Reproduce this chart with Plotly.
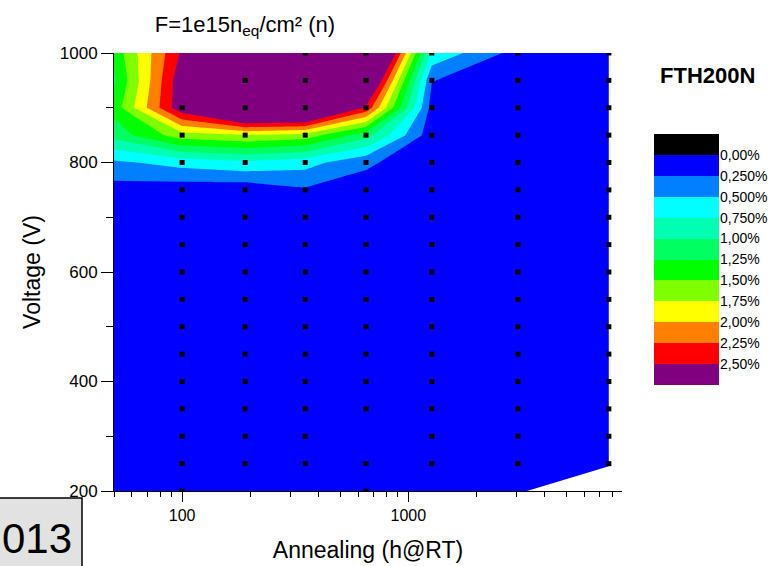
import math
import plotly.graph_objects as go

# ---------------- data ----------------
annealing_grid = [50, 100, 190, 350, 650, 1270, 3050, 7700]          # h@RT
voltage_grid = [200, 250, 300, 350, 400, 450, 500, 550, 600,
                650, 700, 750, 800, 850, 900, 950, 1000]              # V

# leakage (%) per voltage row, columns follow annealing_grid
leak_200 = [0.10, 0.10, 0.10, 0.10, 0.10, 0.10, 0.10, None]
leak_250 = [0.10, 0.10, 0.10, 0.10, 0.10, 0.10, 0.10, 0.10]
leak_300 = [0.10, 0.10, 0.10, 0.10, 0.10, 0.10, 0.10, 0.10]
leak_350 = [0.10, 0.10, 0.10, 0.10, 0.10, 0.10, 0.10, 0.10]
leak_400 = [0.10, 0.10, 0.10, 0.10, 0.10, 0.10, 0.10, 0.10]
leak_450 = [0.10, 0.10, 0.10, 0.10, 0.10, 0.10, 0.10, 0.10]
leak_500 = [0.10, 0.10, 0.10, 0.10, 0.10, 0.10, 0.10, 0.10]
leak_550 = [0.10, 0.10, 0.10, 0.10, 0.10, 0.10, 0.10, 0.10]
leak_600 = [0.10, 0.10, 0.10, 0.10, 0.10, 0.10, 0.10, 0.10]
leak_650 = [0.10, 0.08, 0.08, 0.08, 0.08, 0.08, 0.08, 0.08]
leak_700 = [0.10, 0.05, 0.05, 0.08, 0.05, 0.05, 0.05, 0.05]
leak_750 = [0.15, 0.10, 0.08, 0.22, 0.12, 0.05, 0.05, 0.05]
leak_800 = [0.45, 0.60, 0.70, 0.60, 0.30, 0.05, 0.05, 0.05]
leak_850 = [1.10, 1.65, 1.75, 1.65, 1.10, 0.10, 0.05, 0.05]
leak_900 = [1.35, 2.70, 3.50, 3.50, 2.45, 0.15, 0.05, 0.05]
leak_950 = [1.20, 2.70, 4.00, 4.00, 3.20, 0.26, 0.05, 0.05]
leak_1000 = [1.33, 2.55, 4.00, 4.00, 4.00, 0.70, 0.15, 0.20]

leak = [leak_200, leak_250, leak_300, leak_350, leak_400, leak_450, leak_500,
        leak_550, leak_600, leak_650, leak_700, leak_750, leak_800, leak_850,
        leak_900, leak_950, leak_1000]

# measured points (annealing times measured at each voltage)
all_times = [100, 190, 350, 650, 1270, 3050, 7700]
measured = {
    200: [100, 650],
    250: all_times, 300: [100, 190, 350, 1270, 3050, 7700],
    350: all_times, 400: all_times, 450: all_times, 500: all_times,
    550: all_times, 600: all_times, 650: all_times, 700: all_times,
    750: all_times, 800: all_times, 850: all_times, 900: all_times,
    950: [190, 350, 650, 1270, 3050, 7700],
    1000: [350, 650, 1270, 3050, 7700],
}

levels = [0.00, 0.25, 0.50, 0.75, 1.00, 1.25, 1.50, 1.75, 2.00, 2.25, 2.50]
level_labels = ["0,00%", "0,250%", "0,500%", "0,750%", "1,00%", "1,25%",
                "1,50%", "1,75%", "2,00%", "2,25%", "2,50%"]
legend_colors = ["#000000", "#0000FF", "#0080FF", "#00FFFF", "#00FFB0",
                 "#00FF60", "#00FF00", "#80FF00", "#FFFF00", "#FF8000",
                 "#FF0000", "#800080"]
band_colors = legend_colors[1:]   # blue (<0.25) ... purple (>2.5)

chart_title = "F=1e15n<sub>eq</sub>/cm² (n)"
legend_title = "FTH200N"
x_title = "Annealing (h@RT)"
y_title = "Voltage (V)"
tag_text = "013"

# ---------------- colour scales ----------------
nb = len(band_colors)
band_scale = []
edges = [i / (nb - 1) for i in range(nb)]  # 0,0.1,...,1.0
for i, c in enumerate(band_colors):
    lo = 0.0 if i == 0 else (edges[i] if i < nb - 1 else 0.975)
    hi = edges[i + 1] if i < nb - 2 else (0.975 if i == nb - 2 else 1.0)
    band_scale.append([lo, c])
    band_scale.append([hi, c])

nl = len(legend_colors)
legend_scale = []
for i, c in enumerate(legend_colors):
    legend_scale.append([i / nl, c])
    legend_scale.append([(i + 1) / nl, c])

fig = go.Figure()

fig.add_trace(go.Contour(
    x=annealing_grid, y=voltage_grid, z=leak,
    contours=dict(start=levels[1], end=levels[-1], size=levels[1] - levels[0],
                  coloring="fill", showlines=False),
    colorscale=band_scale, showscale=False,
    line=dict(width=0, smoothing=0),
    connectgaps=False, hoverinfo="skip",
))

dot_x, dot_y = [], []
for v in voltage_grid:
    for t in measured[v]:
        dot_x.append(t)
        dot_y.append(v)
fig.add_trace(go.Scatter(
    x=dot_x, y=dot_y, mode="markers",
    marker=dict(symbol="square", size=5, color="black", line=dict(width=0)),
    hoverinfo="skip", showlegend=False,
))

# legend as a heatmap on its own axes
fig.add_trace(go.Heatmap(
    x=[0], y=list(range(nl)), z=[[i] for i in range(nl)],
    zmin=-0.5, zmax=nl - 0.5, colorscale=legend_scale, showscale=False,
    xaxis="x2", yaxis="y2", hoverinfo="skip",
))

FONT = "Liberation Sans, Arial, sans-serif"
W, H = 784, 566
L, R, T, B = 114, 64, 53, 75
pw, ph = W - L - R, H - T - B


def px_x(p):
    return (p - L) / pw


def px_y(p):
    return (H - B - p) / ph


fig.update_layout(
    width=W, height=H,
    margin=dict(l=L, r=R, t=T, b=B, pad=0, autoexpand=False),
    paper_bgcolor="white", plot_bgcolor="white",
    showlegend=False,
    font=dict(family=FONT, color="black"),
    xaxis=dict(
        type="log", domain=[0, px_x(622)],
        range=[math.log10(50), math.log10(8800)],
        tickvals=[100, 1000], ticktext=["100", "1000"],
        ticks="outside", ticklen=10, tickwidth=1, tickcolor="black",
        minor=dict(dtick="D1", ticks="outside", ticklen=5, tickcolor="black"),
        showline=True, linecolor="black", linewidth=1,
        showgrid=False, zeroline=False, automargin=False,
        tickfont=dict(size=16),
        title=dict(text=x_title, font=dict(size=23), standoff=18),
    ),
    yaxis=dict(
        range=[200, 1000], tick0=200, dtick=200,
        ticks="outside", ticklen=12, tickwidth=1, tickcolor="black",
        minor=dict(dtick=100, ticks="outside", ticklen=7, tickcolor="black"),
        showline=True, linecolor="black", linewidth=1,
        showgrid=False, zeroline=False, automargin=False,
        tickfont=dict(size=17),
        title=dict(text=y_title, font=dict(size=23), standoff=12),
    ),
    xaxis2=dict(domain=[px_x(654), px_x(719)], range=[-0.5, 0.5],
                visible=False, anchor="y2", fixedrange=True),
    yaxis2=dict(domain=[px_y(385), px_y(134)], range=[nl - 0.5, -0.5],
                anchor="x2", side="right", automargin=False,
                tickvals=[i + 0.5 for i in range(len(level_labels))],
                ticktext=level_labels, ticks="", showline=False,
                showgrid=False, zeroline=False,
                tickfont=dict(size=14), fixedrange=True),
    title=dict(text=chart_title, x=px_x(245), xanchor="center",
               xref="paper", y=1 - 24 / H, yanchor="middle",
               font=dict(size=22)),
)

fig.add_annotation(text="<b>" + legend_title + "</b>", xref="paper", yref="paper",
                   x=px_x(707), y=px_y(75), xanchor="center", yanchor="middle",
                   showarrow=False, font=dict(size=22))

# year tag box in bottom-left corner
fig.add_shape(type="rect", xref="paper", yref="paper",
              x0=px_x(-6), x1=px_x(82), y0=px_y(575), y1=px_y(498),
              fillcolor="#e2e2e2", line=dict(color="black", width=1.5),
              layer="above")
fig.add_annotation(text=tag_text, xref="paper", yref="paper",
                   x=px_x(0), y=px_y(538), xanchor="left", yanchor="middle",
                   showarrow=False,
                   font=dict(size=42, family="Liberation Sans Narrow, Liberation Sans, sans-serif"))

fig.write_html(
    "out.html",
    config={"displayModeBar": False},
    post_script="document.body.style.margin='0';document.body.style.padding='0';",
)
